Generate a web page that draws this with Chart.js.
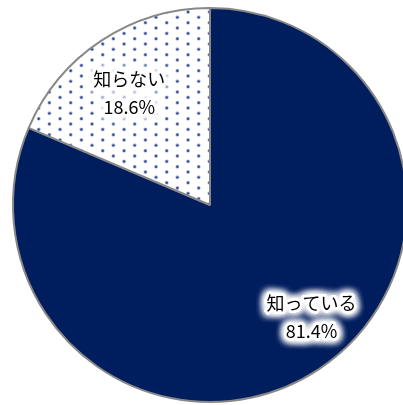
<!DOCTYPE html>
<html>
<head>
<meta charset="utf-8">
<script src="https://cdn.jsdelivr.net/npm/chart.js@4"></script>
<style>
    html, body { margin: 0; padding: 0; background: #fff; overflow: hidden; }
    #wrap { width: 403px; height: 405px; overflow: hidden; }
</style>
</head>
<body>
<div id="wrap">
    <canvas id="pieChart" width="420" height="410"></canvas>
</div>
<script>
// Chart data
const categories = ['知っている', '知らない'];
const shares = [81.4, 18.6];
const valueLabels = ['81.4%', '18.6%'];

// Dotted pattern for the small slice
function makeDotPattern(ctx) {
    const tile = document.createElement('canvas');
    tile.width = 64;
    tile.height = 32;
    const t = tile.getContext('2d');
    t.fillStyle = '#ffffff';
    t.fillRect(0, 0, 64, 32);
    const px = 64 / 3, py = 32 / 3;
    for (let i = -1; i < 4; i++) {
        for (let j = -1; j < 4; j++) {
            [[17.4, 1.4], [6.7, 6.7]].forEach(([ox, oy]) => {
                const cx = ox + i * px, cy = oy + j * py;
                t.fillStyle = 'rgba(90, 120, 185, 0.45)';
                t.beginPath();
                t.arc(cx, cy, 2.0, 0, Math.PI * 2);
                t.fill();
                t.fillStyle = '#2c4c96';
                t.beginPath();
                t.arc(cx, cy, 1.2, 0, Math.PI * 2);
                t.fill();
            });
        }
    }
    return ctx.createPattern(tile, 'repeat');
}

// Labels with a white glow, placed inside each slice
const sliceLabels = {
    id: 'sliceLabels',
    afterDatasetsDraw(chart, args, opts) {
        const ctx = chart.ctx;
        const arcs = chart.getDatasetMeta(0).data;
        arcs.forEach((arc, i) => {
            const mid = (arc.startAngle + arc.endAngle) / 2 + opts.angleShift[i] * Math.PI / 180;
            const r = arc.outerRadius * opts.radiusFrac[i];
            const x = arc.x + Math.cos(mid) * r;
            const y = arc.y + Math.sin(mid) * r;
            const lines = [categories[i], valueLabels[i]];
            ctx.save();
            ctx.font = '18px "Noto Sans CJK JP", sans-serif';
            ctx.textAlign = 'center';
            ctx.textBaseline = 'middle';
            lines.forEach((txt, k) => {
                const ly = y + (k === 0 ? -14 : 14);
                ctx.shadowColor = '#ffffff';
                ctx.shadowBlur = 9;
                ctx.fillStyle = '#ffffff';
                ctx.strokeStyle = '#ffffff';
                ctx.lineWidth = 5;
                ctx.lineJoin = 'round';
                for (let n = 0; n < 4; n++) {
                    ctx.strokeText(txt, x, ly);
                    ctx.fillText(txt, x, ly);
                }
                ctx.shadowBlur = 0;
                ctx.shadowColor = 'transparent';
                ctx.fillStyle = '#000000';
                ctx.fillText(txt, x, ly);
            });
            ctx.restore();
        });
    }
};

document.addEventListener('DOMContentLoaded', () => {
    const canvas = document.getElementById('pieChart');
    const ctx = canvas.getContext('2d');

    new Chart(ctx, {
        type: 'pie',
        data: {
            labels: categories,
            datasets: [{
                data: shares,
                backgroundColor: ['#001d5e', makeDotPattern(ctx)],
                borderColor: '#888888',
                borderWidth: 2
            }]
        },
        options: {
            responsive: false,
            animation: false,
            radius: 197,
            layout: { padding: 0 },
            plugins: {
                legend: { display: false },
                tooltip: { enabled: false },
                sliceLabels: {
                    angleShift: [-8.7, -2.4],
                    radiusFrac: [0.767, 0.70]
                }
            }
        },
        plugins: [sliceLabels]
    });
});
</script>
</body>
</html>
